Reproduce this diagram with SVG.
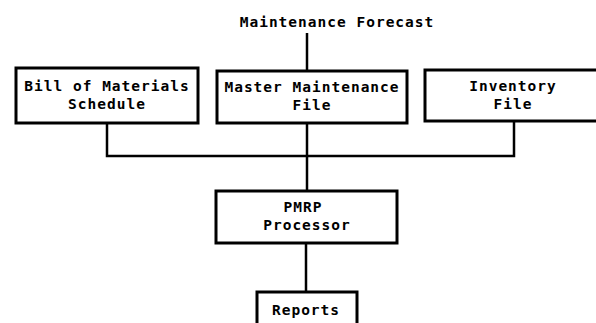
<svg xmlns="http://www.w3.org/2000/svg" width="596" height="323" viewBox="0 0 596 323">
<style>
.box{fill:#fff;stroke:#000;stroke-width:3}
.conn{fill:none;stroke:#000;stroke-width:2.5}
text{font-family:"DejaVu Sans Mono","Liberation Mono",monospace;font-weight:bold;font-size:14.5px;letter-spacing:1px;text-anchor:middle;fill:#000}
</style>
<rect width="596" height="323" fill="#fff"/>
<g id="connectors">
<line class="conn" x1="307" y1="33" x2="307" y2="71"/>
<polyline class="conn" points="107,123 107,156 514,156 514,121"/>
<line class="conn" x1="307" y1="122" x2="307" y2="190"/>
<line class="conn" x1="306" y1="243" x2="306" y2="291"/>
</g>
<g id="forecast"><text x="337" y="27">Maintenance Forecast</text></g>
<g id="bom">
<rect class="box" x="16" y="68" width="182" height="55"/>
<text x="107" y="91">Bill of Materials</text>
<text x="107" y="109">Schedule</text>
</g>
<g id="master">
<rect class="box" x="217" y="71" width="190" height="52"/>
<text x="312" y="92">Master Maintenance</text>
<text x="312" y="110">File</text>
</g>
<g id="inventory">
<rect class="box" x="425" y="70" width="185" height="51"/>
<text x="513" y="91">Inventory</text>
<text x="513" y="109">File</text>
</g>
<g id="pmrp">
<rect class="box" x="216" y="191" width="181" height="52"/>
<text x="303" y="212">PMRP</text>
<text x="307" y="230">Processor</text>
</g>
<g id="reports">
<rect class="box" x="257" y="292" width="100" height="40"/>
<text x="306" y="315">Reports</text>
</g>
</svg>
